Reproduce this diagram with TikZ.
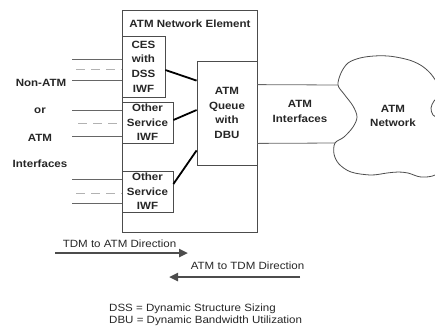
\documentclass[tikz,border=0pt]{standalone}
\usepackage{fontspec}
\setmainfont[FakeStretch=1.1]{Liberation Sans}
\usetikzlibrary{arrows.meta}
\begin{document}
\begin{tikzpicture}[x=1bp,y=-1bp,
  bfont/.style={font=\bfseries\fontsize{10.5bp}{14.6bp}\selectfont},
  rfont/.style={font=\fontsize{10.5bp}{12bp}\selectfont},
  box/.style={draw=black!70, line width=0.8bp, inner sep=0pt, align=center, bfont, text=black!85},
  lbl/.style={bfont, text=black!85, inner sep=0pt, align=center},
  rlbl/.style={rfont, text=black!85, inner sep=0pt},
  link/.style={line width=1.8bp, black},
  iface/.style={draw=black!60, line width=0.8bp},
  dsh/.style={draw=black!30, line width=0.8bp, dash pattern=on 9bp off 6bp},
  dirarrow/.style={line width=2.6bp, black!70, -{Triangle[length=9bp,width=8bp]}},
  cloudline/.style={draw=black!70, line width=0.8bp}
]
\useasboundingbox (0,0) rectangle (435,326);

% network element outer box
\node[box, minimum width=135bp, minimum height=222bp] (ne) at (189.5,121) {};
\node[lbl] (title) at (190,24) {ATM Network Element};

% inner boxes
\node[box, minimum width=43bp, minimum height=61bp] (ces) at (143.5,66.5) {CES\\with\\DSS\\IWF};
\node[box, minimum width=51bp, minimum height=41bp] (osa) at (147.5,122.5) {Other\\Service\\IWF};
\node[box, minimum width=51bp, minimum height=41bp] (osb) at (147.5,191.5) {Other\\Service\\IWF};
\node[box, minimum width=60bp, minimum height=104bp] (queue) at (227,113) {ATM\\Queue\\with\\DBU};

% links to queue
\draw[link] ([yshift=-3.5bp]ces.east) -- ([yshift=-20bp]queue.north west);
\draw[link] ([yshift=2.5bp]osa.east) -- ([yshift=3bp]queue.west);
\draw[link] ([yshift=7.5bp]osb.east) -- ([yshift=15bp]queue.south west);

% interface lines on the left
\coordinate (a1) at (72,59);  \coordinate (a2) at (76,69);  \coordinate (a3) at (72,80);
\coordinate (b1) at (72,110); \coordinate (b2) at (78,123); \coordinate (b3) at (72,136);
\coordinate (d1) at (72,179); \coordinate (d2) at (76,193); \coordinate (d3) at (72,203);
\draw[iface] (a1) -- (a1 -| ces.west);
\draw[dsh]   (a2) -- (a2 -| ces.west);
\draw[iface] (a3) -- (a3 -| ces.west);
\draw[iface] (b1) -- (b1 -| osa.west);
\draw[dsh]   (b2) -- (b2 -| osa.west);
\draw[iface] (b3) -- (b3 -| osa.west);
\draw[iface] (d1) -- (d1 -| osb.west);
\draw[dsh]   (d2) -- (d2 -| osb.west);
\draw[iface] (d3) -- (d3 -| osb.west);

% left labels
\node[lbl] (l1) at (41,83) {Non-ATM};
\node[lbl] (l2) at (40,111) {or};
\node[lbl] (l3) at (40,138) {ATM};
\node[lbl] (l4) at (40,164) {Interfaces};

% cloud
\coordinate (c1) at (338,85);
\coordinate (c2) at (335,143);
\begin{scope}
\clip (0,0) rectangle (435,326);
\draw[cloudline] plot[smooth cycle, tension=0.55] coordinates {
 (338,85) (341,73) (348,63) (360,58) (374,56) (388,56) (401,58) (412,61) (422,66) (431,74)
 (438,85) (440,95) (434,101) (431,108) (433,115) (440,121) (445,140) (442,165) (435,175)
 (421,177) (408,173) (398,172) (387,173) (371,175) (351,172) (339,164) (334,154) (335,143)
 (344,137) (353,127) (357,117) (353,106) (344,94)};
\end{scope}
\node[lbl] (net) at (393,116) {ATM\\Network};

% ATM interfaces
\draw[iface] ([yshift=-24bp]queue.north east) -- (c1);
\draw[iface] ([yshift=22bp]queue.south east) -- (c2);
\node[lbl] (ai) at (300,111.5) {ATM\\Interfaces};

% direction arrows
\node[rlbl] (t1) at (119.5,244) {TDM to ATM Direction};
\node[rlbl] (t2) at (247.5,266) {ATM to TDM Direction};
\coordinate (p1) at (55,253);  \coordinate (p2) at (188,253);
\coordinate (q1) at (300,277); \coordinate (q2) at (169,277);
\draw[dirarrow] (p1) -- (p2);
\draw[dirarrow] (q1) -- (q2);

% legend
\node[rlbl, anchor=base west] (g1) at (109,311) {DSS = Dynamic Structure Sizing};
\node[rlbl, anchor=base west] (g2) at (109,323) {DBU = Dynamic Bandwidth Utilization};
\end{tikzpicture}
\end{document}
